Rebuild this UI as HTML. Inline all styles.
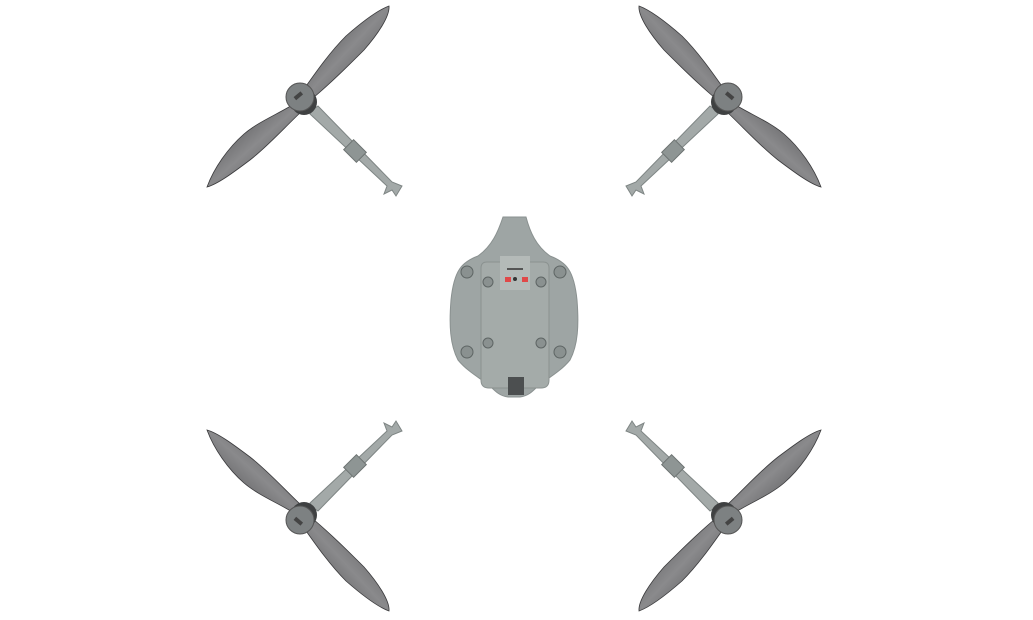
<!DOCTYPE html>
<html><head><style>
html,body{margin:0;padding:0;background:#fff;width:1033px;height:620px;overflow:hidden}
</style></head><body>
<svg width="1033" height="620" viewBox="0 0 1033 620" xmlns="http://www.w3.org/2000/svg">
<defs>
<linearGradient id="bl" x1="0" y1="0" x2="1" y2="1">
<stop offset="0" stop-color="#3e3e40"/><stop offset="0.5" stop-color="#8a8a8c"/><stop offset="1" stop-color="#4a4a4c"/>
</linearGradient>
<g id="unit">
  <path d="M312,110 L318,106 L392,182 L402,186 L396,196 L392,190 L384,194 L387,186 L310,114 Z" fill="#a3a9a8" stroke="#7e8584" stroke-width="1"/>
  <rect x="346" y="144" width="18" height="14" fill="#8e9594" stroke="#6d7372" transform="rotate(45 355 151)"/>
  <path d="M304,89 C316,72 330,52 346,36 C362,22 378,10 389,6 C390,16 378,34 364,50 C348,66 332,82 313,98 Z" fill="url(#bl)" stroke="#3a3a3c" stroke-width="0.8"/>
  <path d="M294,104 C278,114 258,122 244,134 C228,148 214,168 207,187 C218,184 234,172 250,160 C268,146 284,128 301,112 Z" fill="url(#bl)" stroke="#3a3a3c" stroke-width="0.8"/>
  <circle cx="304" cy="102" r="13" fill="#3f4142"/>
  <circle cx="300" cy="97" r="14" fill="#7d8182" stroke="#555" stroke-width="1"/>
  <rect x="295" y="93" width="9" height="4" fill="#444" transform="rotate(-40 300 97)"/>
</g>
</defs>
<use href="#unit"/>
<use href="#unit" transform="translate(1028,0) scale(-1,1)"/>
<use href="#unit" transform="translate(0,617) scale(1,-1)"/>
<use href="#unit" transform="translate(1028,617) scale(-1,-1)"/>
<path d="M503,217 L526,217 C530,232 536,246 550,256 C566,262 574,270 577,300 C579,325 578,345 570,360 C560,372 548,378 538,386 C532,392 528,396 520,397 L508,397 C500,396 496,392 490,386 C480,378 468,372 458,360 C450,345 449,325 451,300 C454,270 462,262 478,256 C492,246 498,232 503,217 Z" fill="#9ea5a4" stroke="#8a9190" stroke-width="1"/>
<path d="M487,262 L543,262 Q549,262 549,268 L549,380 Q549,388 541,388 L489,388 Q481,388 481,380 L481,268 Q481,262 487,262 Z" fill="#a4aba9" stroke="#8b9290" stroke-width="1"/>
<rect x="500" y="256" width="30" height="34" fill="#b4bab8"/>
<rect x="507" y="268" width="16" height="2" fill="#555"/>
<rect x="505" y="277" width="6" height="5" fill="#e04848"/>
<rect x="522" y="277" width="6" height="5" fill="#e04848"/>
<circle cx="515" cy="279" r="2" fill="#333"/>
<rect x="508" y="377" width="16" height="18" fill="#4c4f50"/>
<g fill="#8a9190" stroke="#5e6564" stroke-width="1">
<circle cx="488" cy="282" r="5"/><circle cx="541" cy="282" r="5"/>
<circle cx="488" cy="343" r="5"/><circle cx="541" cy="343" r="5"/>
<circle cx="467" cy="272" r="6"/><circle cx="560" cy="272" r="6"/>
<circle cx="467" cy="352" r="6"/><circle cx="560" cy="352" r="6"/>
</g>
</svg>
</body></html>
